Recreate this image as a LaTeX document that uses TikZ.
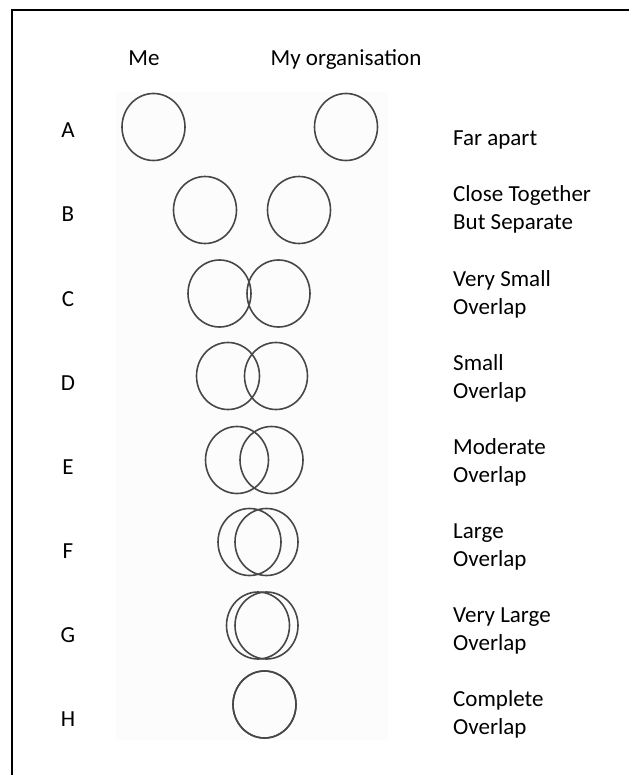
\documentclass[tikz,border=0pt]{standalone}
\usepackage{fontspec}
\setmainfont{Carlito}

\begin{document}
\begin{tikzpicture}[x=1pt,y=-1pt,
    ring/.style={draw=black!72,line width=1.6pt},
    txt/.style={inner sep=0pt,font=\fontsize{23}{28}\selectfont},
    desc/.style={txt,anchor=base west,align=left}]
  \useasboundingbox (0,0) rectangle (629,775);
  \fill[black!1] (116,92) rectangle (388,740);
  \draw[line width=2.4pt] (12,775) -- (12,10) -- (629,10);

  \node[txt,anchor=base] (me) at (144,65.5) {Me};
  \node[txt,anchor=base] (org) at (346,65.5) {My organisation};

  % row letters
  \foreach \n [count=\i from 0] in {A,B,C,D,E,F,G,H}
    \node[txt,anchor=base] (row\n) at (68,138+84*\i) {\n};

  % pairs of circles: me, organisation
  \foreach \cy/\xl/\xr in {127/153.5/346, 210/205/299, 293.5/219.5/278.5,
      376/228/276, 460/237/271.5, 542/249.5/266.5, 625.5/258/266.5, 704.5/264.5/264.5} {
    \draw[ring] (\xl,\cy) ellipse (31.5pt and 33.5pt);
    \draw[ring] (\xr,\cy) ellipse (31.5pt and 33.5pt);
  }

  % base of a two-line label is its last line
  \node[desc] (descA) at (453,146) {Far apart};
  \node[desc] (descB) at (453,230) {Close Together\\But Separate};
  \node[desc] (descC) at (453,314) {Very Small\\Overlap};
  \node[desc] (descD) at (453,398) {Small\\Overlap};
  \node[desc] (descE) at (453,482) {Moderate\\Overlap};
  \node[desc] (descF) at (453,566) {Large\\Overlap};
  \node[desc] (descG) at (453,650) {Very Large\\Overlap};
  \node[desc] (descH) at (453,734) {Complete\\Overlap};
\end{tikzpicture}
\end{document}
